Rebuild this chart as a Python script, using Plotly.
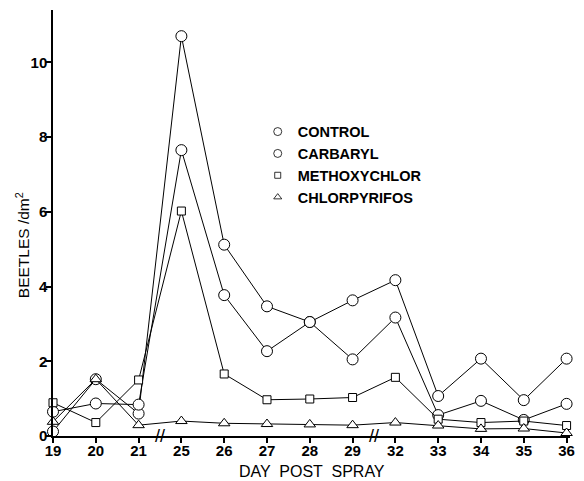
import plotly.graph_objects as go

days = ["19", "20", "21", "25", "26", "27", "28", "29", "32", "33", "34", "35", "36"]
control = [0.12, 1.52, 0.60, 10.70, 5.12, 3.47, 3.05, 3.63, 4.17, 1.07, 2.07, 0.96, 2.07]
carbaryl = [0.65, 0.87, 0.84, 7.65, 3.77, 2.27, 3.05, 2.05, 3.17, 0.56, 0.94, 0.43, 0.86]
methoxychlor = [0.89, 0.36, 1.50, 6.02, 1.66, 0.97, 0.99, 1.03, 1.57, 0.45, 0.36, 0.40, 0.28]
chlorpyrifos = [0.38, 1.52, 0.29, 0.40, 0.34, 0.32, 0.31, 0.29, 0.36, 0.28, 0.19, 0.20, 0.08]

series = [
    ("CONTROL", control, "circle", 11, 8),
    ("CARBARYL", carbaryl, "circle", 11, 8),
    ("METHOXYCHLOR", methoxychlor, "square", 8, 6),
    ("CHLORPYRIFOS", chlorpyrifos, "triangle-up", 10, 7),
]

FONT = "Liberation Sans"
fig = go.Figure()
for name, vals, sym, size, lsize in series:
    fig.add_trace(go.Scatter(
        x=days, y=vals, mode="lines+markers", showlegend=False,
        line=dict(color="black", width=1),
        marker=dict(symbol=sym, size=size, color="white",
                    line=dict(color="black", width=1)),
        cliponaxis=False,
    ))
for name, vals, sym, size, lsize in series:
    fig.add_trace(go.Scatter(
        x=[None], y=[None], mode="markers", name=name,
        marker=dict(symbol=sym, size=lsize, color="white", line=dict(color="black", width=0.8)),
    ))

for xb in [2.5, 7.5]:
    fig.add_annotation(x=xb, y=0, xref="x", yref="y", text="//", showarrow=False,
                       font=dict(family=FONT, size=18, color="black"), yshift=0)

# axis titles
fig.add_annotation(x=0.5, y=-0.083, xref="paper", yref="paper", xanchor="center", yanchor="middle",
                   text="DAY  POST  SPRAY", showarrow=False,
                   font=dict(family=FONT, size=16, color="black"))
fig.add_annotation(x=-0.058, y=0.448, xref="paper", yref="paper", xanchor="center", yanchor="middle",
                   text="BEETLES /dm<sup>2</sup>", textangle=-90, showarrow=False,
                   font=dict(family=FONT, size=15.5, color="black"))

fig.update_layout(
    width=576, height=473,
    margin=dict(l=45, r=14, t=2, b=45),
    paper_bgcolor="white", plot_bgcolor="white",
    font=dict(family=FONT, color="black"),
    legend=dict(x=0.396, y=0.752, xanchor="left", yanchor="top",
                font=dict(family=FONT, size=14.5, weight="bold"),
                bgcolor="rgba(0,0,0,0)", itemsizing="trace", tracegroupgap=0,
                itemwidth=30),
    xaxis=dict(type="category", range=[0, 12.08], showgrid=False, zeroline=False,
               showline=True, linecolor="black", linewidth=2, automargin=False,
               ticks="outside", ticklen=5, tickwidth=1.5, tickcolor="black",
               ticklabelstandoff=-5,
               tickfont=dict(family=FONT, size=15, weight="bold")),
    yaxis=dict(range=[0, 11.4], showgrid=False, zeroline=False,
               showline=True, linecolor="black", linewidth=1.5, automargin=False,
               tickvals=[0, 2, 4, 6, 8, 10],
               ticks="outside", ticklen=5, tickwidth=1.5, tickcolor="black",
               ticklabelstandoff=-4,
               tickfont=dict(family=FONT, size=15, weight="bold")),
)

fig.write_html("out.html")
